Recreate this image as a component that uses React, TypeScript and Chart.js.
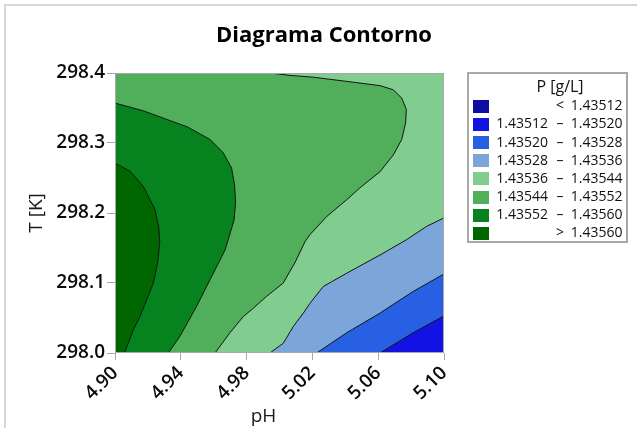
import { useEffect, useRef } from 'react';
import { Chart, registerables } from 'chart.js';

Chart.register(...registerables);

// Axis ranges and tick values
const PH_MIN = 4.9;
const PH_MAX = 5.1;
const T_MIN = 298.0;
const T_MAX = 298.4;
const pHTicks = [4.9, 4.94, 4.98, 5.02, 5.06, 5.1];
const tTicks = [298.0, 298.1, 298.2, 298.3, 298.4];

const chartTitle = 'Diagrama Contorno';
const xTitle = 'pH';
const yTitle = 'T [K]';
const legendTitle = 'P [g/L]';

// Contour levels of P [g/L] and the colour of each band (lowest first)
const levels = [1.43512, 1.4352, 1.43528, 1.43536, 1.43544, 1.43552, 1.4356];
const bandColors = ['#0d0d9f', '#1212e2', '#2760e2', '#7ca6da', '#80cd8f', '#51ae5b', '#06821f', '#006600'];

type Pt = [number, number];

// Iso-lines as [pH, T] points, each running from one plot edge to another
const iso1_43520: Pt[] = [[5.1, 298.053], [5.0813, 298.029], [5.0611, 298.0]];
const iso1_43528: Pt[] = [[5.1, 298.113], [5.0813, 298.088], [5.0611, 298.057], [5.0409, 298.029], [5.0226, 298.0]];
const iso1_43536: Pt[] = [
  [5.1, 298.193], [5.0895, 298.181], [5.0773, 298.162], [5.0611, 298.14], [5.0409, 298.114],
  [5.0266, 298.095], [5.0185, 298.071], [5.0145, 298.057], [5.0084, 298.038], [5.0023, 298.014], [4.9942, 298.0],
];
const iso1_43544: Pt[] = [
  [4.9942, 298.4], [5.0064, 298.3966], [5.0205, 298.394], [5.0409, 298.388], [5.0611, 298.382],
  [5.0692, 298.376], [5.0743, 298.364], [5.0771, 298.348], [5.0767, 298.329], [5.0743, 298.305],
  [5.0692, 298.283], [5.0611, 298.259], [5.0489, 298.236], [5.0409, 298.219], [5.0287, 298.195],
  [5.0185, 298.169], [5.0155, 298.159], [5.0094, 298.129], [5.0064, 298.117], [5.0023, 298.1],
  [4.9922, 298.081], [4.9841, 298.064], [4.978, 298.052], [4.9699, 298.029], [4.9608, 298.0],
];
const iso1_43552: Pt[] = [
  [4.9, 298.357], [4.9172, 298.346], [4.93, 298.335], [4.944, 298.323], [4.9578, 298.305],
  [4.9658, 298.286], [4.9709, 298.264], [4.9727, 298.24], [4.9733, 298.215], [4.9724, 298.19],
  [4.9669, 298.147], [4.9578, 298.105], [4.9497, 298.067], [4.9395, 298.024], [4.9324, 298.0],
];
const iso1_43560: Pt[] = [
  [4.9, 298.271], [4.909, 298.26], [4.9172, 298.238], [4.9243, 298.205], [4.9266, 298.18],
  [4.9272, 298.16], [4.926, 298.13], [4.9233, 298.1], [4.9193, 298.076], [4.9152, 298.052],
  [4.9111, 298.033], [4.9058, 298.0],
];

const isoLines: Pt[][] = [iso1_43520, iso1_43528, iso1_43536, iso1_43544, iso1_43552, iso1_43560];

// Closing a region beyond the plot edges (clipped away when drawn)
const EPS = 1e-6;
const X0 = PH_MIN - 0.05;
const X1 = PH_MAX + 0.05;
const Y0 = T_MIN - 0.05;
const Y1 = T_MAX + 0.05;
// edges: 0 bottom, 1 left, 2 top, 3 right; corner reached after leaving each edge
const corners: Pt[] = [[X0, Y0], [X0, Y1], [X1, Y1], [X1, Y0]];
const edgeOf = ([x, y]: Pt) =>
  Math.abs(y - T_MIN) < EPS ? 0 : Math.abs(x - PH_MIN) < EPS ? 1 : Math.abs(y - T_MAX) < EPS ? 2 : 3;
const pushOut = ([x, y]: Pt, e: number): Pt =>
  e === 0 ? [x, Y0] : e === 1 ? [X0, y] : e === 2 ? [x, Y1] : [X1, y];

// Region on the high-value (upper-left) side of an iso-line
function higherSide(line: Pt[]): Pt[] {
  const start = line[0];
  const end = line[line.length - 1];
  const eS = edgeOf(start);
  const eE = edgeOf(end);
  const out: Pt[] = [...line, pushOut(end, eE)];
  for (let e = eE; e !== eS; e = (e + 1) % 4) out.push(corners[e]);
  out.push(pushOut(start, eS));
  return out;
}

const toXY = (pts: Pt[]) => pts.map(([x, y]) => ({ x, y }));

const FONT = '"Open Sans", "Noto Sans", sans-serif';
const TEXT = '#0a0a0a';
const FRAME = '#a8a8a8';

function buildDatasets() {
  const sets: any[] = [];
  // base band, below the lowest iso-line
  sets.push({
    data: toXY(corners),
    showLine: true,
    fill: 'shape',
    backgroundColor: bandColors[1],
    borderColor: 'transparent',
    borderWidth: 0,
    pointRadius: 0,
    tension: 0,
    order: 100,
  });
  isoLines.forEach((line, i) => {
    sets.push({
      data: toXY(higherSide(line)),
      showLine: true,
      fill: 'shape',
      backgroundColor: bandColors[i + 2],
      borderColor: 'transparent',
      borderWidth: 0,
      pointRadius: 0,
      tension: 0,
      order: 99 - i,
    });
  });
  isoLines.forEach((line) => {
    sets.push({
      data: toXY(line),
      showLine: true,
      fill: false,
      borderColor: '#141414',
      borderWidth: 1,
      pointRadius: 0,
      tension: 0,
      order: 0,
    });
  });
  return sets;
}

const plotFrame = {
  id: 'plotFrame',
  afterDatasetsDraw(chart: any) {
    const { ctx, chartArea: a } = chart;
    ctx.save();
    ctx.strokeStyle = FRAME;
    ctx.lineWidth = 1;
    ctx.strokeRect(a.left + 0.5, a.top + 0.5, a.right - a.left - 1, a.bottom - a.top - 1);
    ctx.restore();
  },
};

const axisTitles = {
  id: 'axisTitles',
  afterDraw(chart: any) {
    const { ctx, chartArea: a } = chart;
    ctx.save();
    ctx.fillStyle = '#1a1a1a';
    ctx.font = `19px ${FONT}`;
    ctx.textAlign = 'center';
    ctx.textBaseline = 'alphabetic';
    ctx.fillText(xTitle, (a.left + a.right) / 2 - 16, 421.5);
    ctx.translate(42, (a.top + a.bottom) / 2);
    ctx.rotate(-Math.PI / 2);
    ctx.fillText(yTitle, 0, 0);
    ctx.restore();
  },
};

const legendRows = bandColors.map((color, i) => {
  if (i === 0) return { color, lo: '', mid: '<', hi: levels[0].toFixed(5) };
  if (i === bandColors.length - 1) return { color, lo: '', mid: '>', hi: levels[levels.length - 1].toFixed(5) };
  return { color, lo: levels[i - 1].toFixed(5), mid: '–', hi: levels[i].toFixed(5) };
});

export default function App() {
  const ref = useRef<HTMLCanvasElement>(null);

  useEffect(() => {
    const tickFont = { family: FONT, size: 19, weight: '600' };
    const chart = new Chart(ref.current!, {
      type: 'scatter',
      data: { datasets: buildDatasets() },
      plugins: [plotFrame, axisTitles],
      options: {
        animation: false,
        responsive: false,
        maintainAspectRatio: false,
        events: [],
        layout: { padding: { left: 11, top: 0, right: 0, bottom: 0 } },
        plugins: {
          legend: { display: false },
          tooltip: { enabled: false },
          title: {
            display: true,
            text: chartTitle,
            color: '#000',
            font: { family: FONT, size: 22, weight: 'bold', lineHeight: 1.2 },
            padding: { top: 23, bottom: 23.6 },
          },
        },
        scales: {
          x: {
            type: 'linear',
            position: 'bottom',
            min: PH_MIN,
            max: PH_MAX,
            afterBuildTicks: (s: any) => {
              s.ticks = pHTicks.map((value) => ({ value }));
            },
            afterFit: (s: any) => {
              s.height = 75;
            },
            ticks: {
              autoSkip: false,
              minRotation: 45,
              maxRotation: 45,
              padding: 2,
              color: TEXT,
              font: tickFont,
              callback: (v: any) => Number(v).toFixed(2),
            },
            grid: { display: true, drawOnChartArea: false, drawTicks: true, tickLength: 7, color: FRAME },
            border: { display: false },
          },
          y: {
            type: 'linear',
            position: 'left',
            min: T_MIN,
            max: T_MAX,
            afterBuildTicks: (s: any) => {
              s.ticks = tTicks.map((value) => ({ value }));
            },
            afterFit: (s: any) => {
              s.width = 104;
            },
            ticks: {
              padding: 2,
              color: TEXT,
              font: tickFont,
              callback: (v: any) => Number(v).toFixed(1),
            },
            grid: { display: true, drawOnChartArea: false, drawTicks: true, tickLength: 8, color: FRAME },
            border: { display: false },
          },
          side: {
            type: 'linear',
            position: 'right',
            display: true,
            ticks: { display: false },
            grid: { display: false },
            border: { display: false },
            afterFit: (s: any) => {
              s.width = 193;
            },
          },
        },
      } as any,
    });
    return () => chart.destroy();
  }, []);

  const rowTop = (k: number) => 96.3 + 18.1 * k;

  return (
    <div
      style={{
        position: 'fixed',
        left: 0,
        top: 0,
        width: 637,
        height: 428,
        overflow: 'hidden',
        background: '#fff',
        fontFamily: FONT,
        color: '#111',
      }}
    >
      <div
        style={{
          position: 'absolute',
          left: 4,
          top: 4,
          width: 800,
          height: 600,
          borderLeft: '2px solid #d7d7d7',
          borderTop: '2px solid #d7d7d7',
        }}
      />
      <canvas
        ref={ref}
        width={637}
        height={428}
        style={{ position: 'absolute', left: 0, top: 0, width: 637, height: 428 }}
      />
      <div
        style={{
          position: 'absolute',
          left: 467,
          top: 72,
          width: 161,
          height: 171,
          boxSizing: 'border-box',
          border: `2px solid ${FRAME}`,
        }}
      />
      <div
        style={{
          position: 'absolute',
          left: 500,
          width: 120,
          top: 76.9,
          height: 18,
          lineHeight: '18px',
          fontSize: 16,
          textAlign: 'center',
          whiteSpace: 'nowrap',
        }}
      >
        {legendTitle}
      </div>
      {legendRows.map((r, k) => (
        <div key={k}>
          <div
            style={{
              position: 'absolute',
              left: 473,
              top: 100 + 18.1 * k,
              width: 16,
              height: 13,
              background: r.color,
            }}
          />
          <div
            style={{
              position: 'absolute',
              left: 490,
              width: 58,
              top: rowTop(k),
              height: 18,
              lineHeight: '18px',
              fontSize: 14,
              textAlign: 'right',
              whiteSpace: 'nowrap',
            }}
          >
            {r.lo}
          </div>
          <div
            style={{
              position: 'absolute',
              left: 550,
              width: 20,
              top: rowTop(k),
              height: 18,
              lineHeight: '18px',
              fontSize: 14,
              textAlign: 'center',
              whiteSpace: 'nowrap',
            }}
          >
            {r.mid}
          </div>
          <div
            style={{
              position: 'absolute',
              left: 562,
              width: 60.5,
              top: rowTop(k),
              height: 18,
              lineHeight: '18px',
              fontSize: 14,
              textAlign: 'right',
              whiteSpace: 'nowrap',
            }}
          >
            {r.hi}
          </div>
        </div>
      ))}
    </div>
  );
}
